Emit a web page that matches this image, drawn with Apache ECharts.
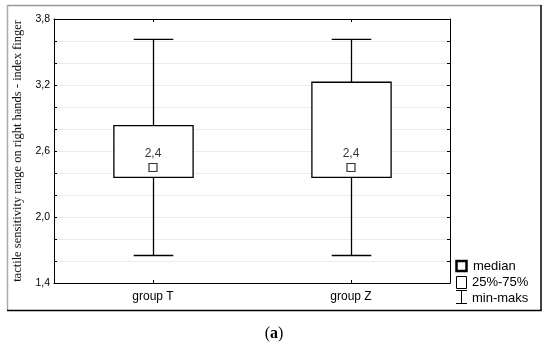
<!DOCTYPE html>
<html>
<head>
<meta charset="utf-8">
<script src="https://cdn.jsdelivr.net/npm/echarts@6/dist/echarts.min.js"></script>
<style>
  html, body { margin: 0; padding: 0; background: #fff; }
  #chart { width: 550px; height: 347px; }
</style>
</head>
<body>
<div id="chart"></div>
<script>
const categories = ['group T', 'group Z'];
const mins = [1.65, 1.65];
const q1s = [2.36, 2.36];
const medians = [2.45, 2.45];
const q3s = [2.83, 3.225];
const maxs = [3.615, 3.615];
const medianLabels = ['2,4', '2,4'];
const yTickLabels = ['1,4', '2,0', '2,6', '3,2', '3,8'];

const boxData = categories.map((c, i) => [i, mins[i], q1s[i], q3s[i], maxs[i]]);
const medianData = categories.map((c, i) => [i, medians[i]]);

const chart = echarts.init(document.getElementById('chart'), null, { renderer: 'canvas' });

const labelFont = 'Liberation Sans, Arial, sans-serif';
const serifFont = 'Liberation Serif, Times New Roman, serif';

function yLabel(v) {
  const k = Math.round((v - 1.4) / 0.2);
  if (k % 3 !== 0) return '';
  return yTickLabels[k / 3] || '';
}

const option = {
  animation: false,
  backgroundColor: '#fff',
  grid: { left: 54, top: 19, right: 100, bottom: 64, containLabel: false },
  xAxis: [
    {
      type: 'category', data: categories, position: 'bottom',
      axisLine: { show: true, lineStyle: { color: '#000', width: 1 } },
      axisTick: { show: true, inside: true, alignWithLabel: true, length: 3, lineStyle: { color: '#000' } },
      axisLabel: { color: '#000', fontSize: 12, fontFamily: labelFont, margin: 8 },
      splitLine: { show: false }
    },
    {
      type: 'category', data: categories, position: 'top',
      axisLine: { show: true, lineStyle: { color: '#000', width: 1 } },
      axisTick: { show: true, inside: true, alignWithLabel: true, length: 3, lineStyle: { color: '#000' } },
      axisLabel: { show: false },
      splitLine: { show: false }
    }
  ],
  yAxis: [
    {
      type: 'value', min: 1.4, max: 3.8, interval: 0.2, position: 'left',
      name: 'tactile sensitivity range on right hands - index finger',
      nameLocation: 'middle', nameGap: 19, nameRotate: 90,
      nameTextStyle: { fontFamily: serifFont, fontSize: 12.5, color: '#111' },
      axisLine: { show: true, lineStyle: { color: '#000', width: 1 } },
      axisTick: { show: true, inside: true, length: 3, lineStyle: { color: '#000' } },
      axisLabel: { color: '#000', fontSize: 10.5, fontFamily: labelFont, margin: 4, formatter: yLabel },
      splitLine: { show: true, lineStyle: { color: '#ececec', width: 1 } }
    },
    {
      type: 'value', min: 1.4, max: 3.8, interval: 0.2, position: 'right',
      axisLine: { show: true, lineStyle: { color: '#000', width: 1 } },
      axisTick: { show: true, inside: true, length: 3, lineStyle: { color: '#000' } },
      axisLabel: { show: false },
      splitLine: { show: false }
    }
  ],
  series: [
    {
      type: 'custom',
      xAxisIndex: 0, yAxisIndex: 0,
      data: boxData,
      encode: { x: 0, y: [1, 2, 3, 4] },
      z: 3,
      renderItem: function (params, api) {
        const x = api.value(0);
        const band = api.size([1, 0])[0];
        const pMin = api.coord([x, api.value(1)]);
        const pQ1 = api.coord([x, api.value(2)]);
        const pQ3 = api.coord([x, api.value(3)]);
        const pMax = api.coord([x, api.value(4)]);
        const cx = Math.round(pMin[0]) + 0.5;
        const bw = band * 0.4, cw = band * 0.2;
        const ls = { stroke: '#000', lineWidth: 1.3, fill: null };
        return {
          type: 'group',
          children: [
            { type: 'line', shape: { x1: cx, y1: pMax[1], x2: cx, y2: pQ3[1] }, style: ls },
            { type: 'line', shape: { x1: cx, y1: pQ1[1], x2: cx, y2: pMin[1] }, style: ls },
            { type: 'line', shape: { x1: cx - cw / 2, y1: pMax[1], x2: cx + cw / 2, y2: pMax[1] }, style: ls },
            { type: 'line', shape: { x1: cx - cw / 2, y1: pMin[1], x2: cx + cw / 2, y2: pMin[1] }, style: ls },
            { type: 'rect', shape: { x: cx - bw / 2, y: pQ3[1], width: bw, height: pQ1[1] - pQ3[1] },
              style: { fill: '#fff', stroke: '#000', lineWidth: 1.3 } }
          ]
        };
      }
    },
    {
      type: 'scatter',
      xAxisIndex: 0, yAxisIndex: 0,
      data: medianData,
      z: 5,
      symbol: 'rect', symbolSize: 8,
      itemStyle: { color: '#fff', borderColor: '#000', borderWidth: 1.2 },
      label: {
        show: true, position: 'top', distance: 3,
        formatter: function (p) { return medianLabels[p.dataIndex]; },
        color: '#000', fontSize: 12, fontFamily: labelFont
      }
    }
  ],
  graphic: [
    { type: 'line', shape: { x1: 7, y1: 5.5, x2: 541, y2: 5.5 }, style: { stroke: '#999', lineWidth: 1.5 } },
    { type: 'line', shape: { x1: 7.5, y1: 5, x2: 7.5, y2: 310 }, style: { stroke: '#aaa', lineWidth: 1.5 } },
    { type: 'line', shape: { x1: 541, y1: 5, x2: 541, y2: 311 }, style: { stroke: '#000', lineWidth: 1.5 } },
    { type: 'line', shape: { x1: 7, y1: 310.5, x2: 541.5, y2: 310.5 }, style: { stroke: '#000', lineWidth: 1.5 } },

    { type: 'rect', shape: { x: 456.5, y: 261, width: 10, height: 10 }, style: { fill: '#fff', stroke: '#000', lineWidth: 2.5 } },
    { type: 'text', x: 473, y: 266, style: { text: 'median', fontSize: 13, fontFamily: labelFont, fill: '#000', verticalAlign: 'middle' } },
    { type: 'rect', shape: { x: 456.5, y: 276.5, width: 10, height: 12 }, style: { fill: '#fff', stroke: '#000', lineWidth: 1 } },
    { type: 'text', x: 472, y: 282, style: { text: '25%-75%', fontSize: 13, fontFamily: labelFont, fill: '#000', verticalAlign: 'middle' } },
    { type: 'line', shape: { x1: 456, y1: 290.5, x2: 467, y2: 290.5 }, style: { stroke: '#000', lineWidth: 1 } },
    { type: 'line', shape: { x1: 461.5, y1: 290.5, x2: 461.5, y2: 303.5 }, style: { stroke: '#000', lineWidth: 1 } },
    { type: 'line', shape: { x1: 456, y1: 303.5, x2: 467, y2: 303.5 }, style: { stroke: '#000', lineWidth: 1 } },
    { type: 'text', x: 472, y: 298, style: { text: 'min-maks', fontSize: 13, fontFamily: labelFont, fill: '#000', verticalAlign: 'middle' } },

    { type: 'text', x: 274, y: 334, style: {
        text: '({b|a})', fontSize: 16, fontFamily: serifFont, fill: '#000',
        align: 'center', verticalAlign: 'middle',
        rich: { b: { fontWeight: 'bold', fontSize: 16, fontFamily: serifFont } }
      } }
  ]
};

chart.setOption(option);
</script>
</body>
</html>
